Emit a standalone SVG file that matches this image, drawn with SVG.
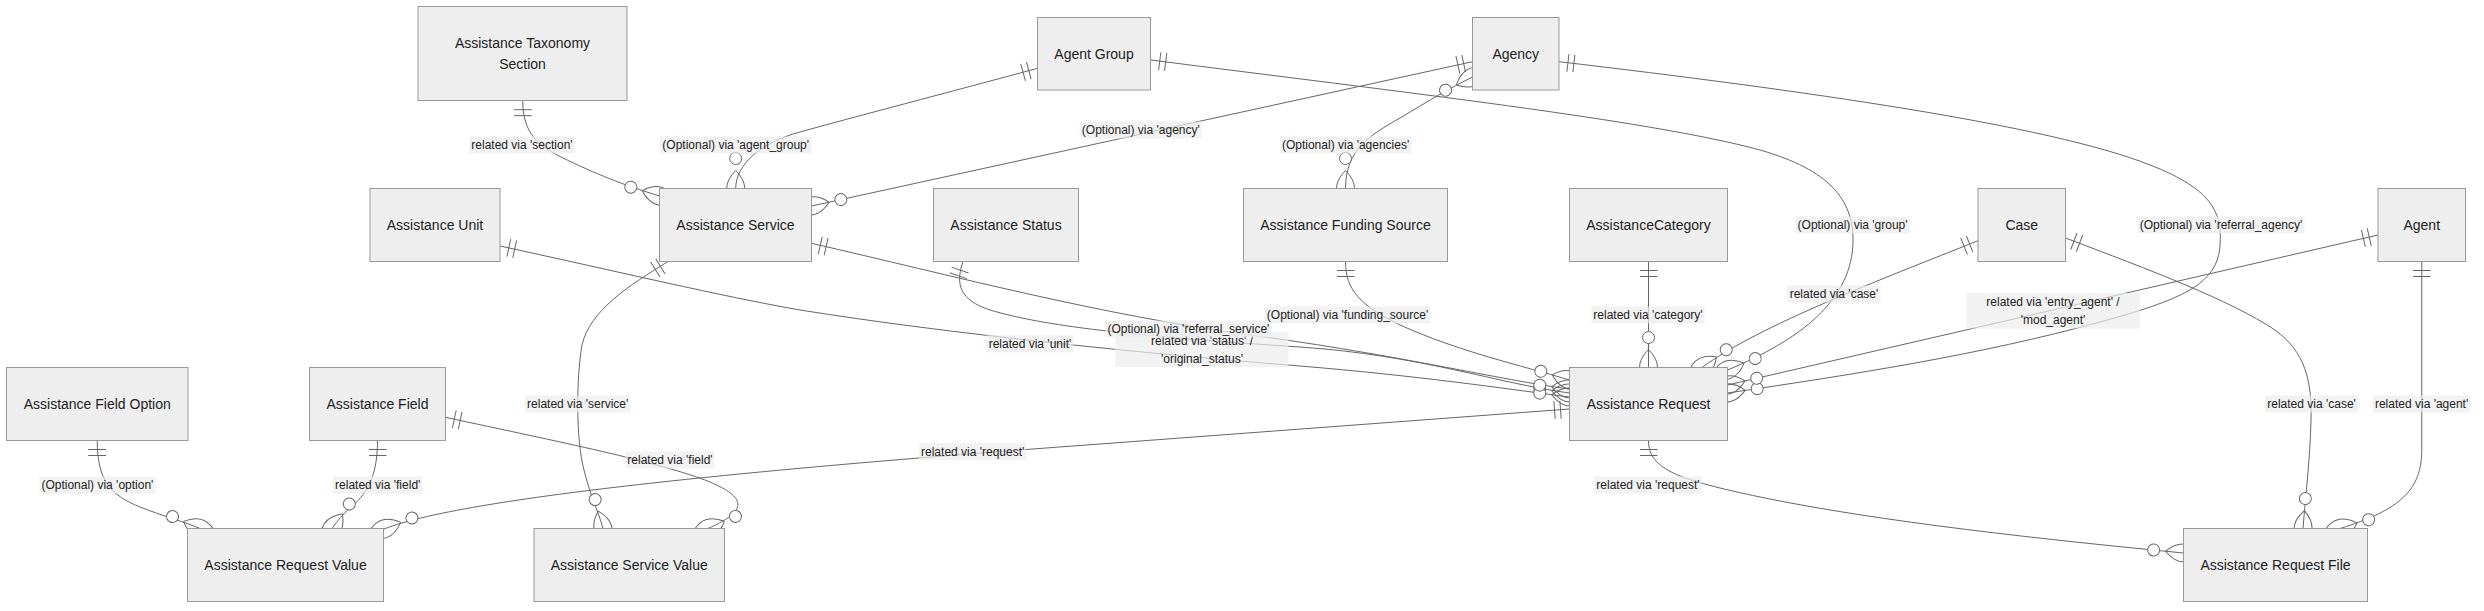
<svg xmlns="http://www.w3.org/2000/svg" width="2484" height="611" viewBox="0 0 2484 611">
<style>
.node rect{fill:#eeeeee;stroke:#999999;stroke-width:1}
.node text{font-family:"Liberation Sans",Arial,sans-serif;font-size:14px;fill:#222222;text-anchor:middle;dominant-baseline:central}
.edge{fill:none;stroke:#666666;stroke-width:1}
.one{marker-start:url(#oneStart)}
.many{marker-end:url(#manyEnd)}
.lbl rect{fill:#ececec;opacity:0.7}
.lbl text{font-family:"Liberation Sans",Arial,sans-serif;font-size:12px;fill:#222222;text-anchor:middle;dominant-baseline:central}
</style>
<defs>
<marker id="oneStart" refX="0" refY="9" markerWidth="18" markerHeight="18" orient="auto" markerUnits="userSpaceOnUse"><path d="M9,0 L9,18 M15,0 L15,18" stroke="#666666" fill="none"/></marker>
<marker id="manyEnd" refX="39" refY="18" markerWidth="57" markerHeight="36" orient="auto" markerUnits="userSpaceOnUse"><circle cx="9" cy="18" r="6" stroke="#666666" fill="#ffffff"/><path d="M21,18 Q39,0 57,18 Q39,36 21,18" stroke="#666666" fill="none"/></marker>
<marker id="manyStart" refX="18" refY="18" markerWidth="57" markerHeight="36" orient="auto" markerUnits="userSpaceOnUse"><circle cx="48" cy="18" r="6" stroke="#666666" fill="#ffffff"/><path d="M0,18 Q18,0 36,18 Q18,36 0,18" stroke="#666666" fill="none"/></marker>
</defs>
<rect x="0" y="0" width="2484" height="611" fill="#ffffff"/>
<g id="connectors">
<path class="edge one many" d="M522.7,100.7 C522.7,140 545,150 580,166 S640,190 659.5,196"/>
<path class="edge one many" d="M1037.5,68.3 C950,92 850,118 800,132 C760,142.7 735.7,165 735.7,188.5"/>
<path class="edge one many" d="M1472.5,61.7 L811.5,206"/>
<path class="edge many" style="marker-start:url(#manyStart)" d="M1345.5,188.5 C1345.5,150 1370,135 1400,118 C1430,100 1450,88 1472.5,77"/>
<path class="edge one many" d="M1150.8,60 C1400,92 1650,120 1760,150 C1830,170 1853,200 1853,240 C1853,300 1800,340 1727.5,370"/>
<path class="edge one many" d="M1559,61.7 C1800,90 2050,125 2150,165 C2215,190 2222,215 2220,245 C2218,285 2180,300 2100,322 C1980,355 1850,375 1727.5,393"/>
<path class="edge one many" d="M1978,240.7 C1880,280 1760,325 1702,367.5"/>
<path class="edge one many" d="M2378,235 L1727.5,385"/>
<path class="edge one many" d="M1648.5,261.5 L1648.5,367.5"/>
<path class="edge one many" d="M2065.5,238 C2150,270 2230,300 2275,330 C2305,352 2312,380 2311,420 C2310,460 2306,490 2303,528.5"/>
<path class="edge one many" d="M2421.75,261.5 L2421.75,450 C2421.75,490 2400,510 2340,528.5"/>
<path class="edge one many" d="M1648.5,440.5 C1648.5,470 1680,480 1760,497 C1880,522 2050,540 2183.5,553"/>
<path class="edge one many" d="M1569.5,409 L1100,444 C800,466 470,495 384,529"/>
<path class="edge one many" d="M97.25,440.5 C97.25,480 110,495 140,507 C160,515 185,522 200,528.5"/>
<path class="edge one many" d="M377.5,440.5 C377.5,480 365,495 350,508 C343,514 338,520 332,528.5"/>
<path class="edge one many" d="M445.5,417.3 C560,442 660,462 710,482 C745,497 750,510 708,528.5"/>
<path class="edge one many" d="M668,261.5 C630,285 590,310 582,345 C576,380 576,440 584,470 C590,495 598,510 603,528.5"/>
<path class="edge one many" d="M963,261.5 C955,285 960,300 990,310 C1050,328 1150,337 1300,347 C1420,355 1500,384 1569.5,393"/>
<path class="edge one many" d="M500,246 C620,272 720,296 800,310 C950,334 1150,354 1300,366 C1420,376 1500,388 1569.5,397"/>
<path class="edge one many" d="M811.5,243.3 C950,275 1100,315 1250,335 C1400,355 1500,380 1569.5,389"/>
<path class="edge one many" d="M1345.5,261.5 C1345.5,290 1360,305 1400,325 C1460,352 1520,365 1569.5,380"/>
<g class="lbl">
<rect x="469.5" y="136.5" width="105" height="17"/><text x="522" y="145">related via 'section'</text>
<rect x="660.2" y="136.5" width="151" height="17"/><text x="735.7" y="145">(Optional) via 'agent_group'</text>
<rect x="1079.8" y="121.5" width="122" height="17"/><text x="1140.8" y="130">(Optional) via 'agency'</text>
<rect x="1280.1" y="136.5" width="131" height="17"/><text x="1345.6" y="145">(Optional) via 'agencies'</text>
<rect x="1795.6" y="216.5" width="114" height="17"/><text x="1852.6" y="225">(Optional) via 'group'</text>
<rect x="2137.5" y="216.5" width="167" height="17"/><text x="2221" y="225">(Optional) via 'referral_agency'</text>
<rect x="1787.5" y="285.5" width="93" height="17"/><text x="1834" y="294">related via 'case'</text>
<rect x="1966.7" y="293" width="173" height="35.5"/><text x="2053" y="301.7">related via 'entry_agent' /</text><text x="2053" y="320">'mod_agent'</text>
<rect x="1591.5" y="306.5" width="113" height="17"/><text x="1648" y="315">related via 'category'</text>
<rect x="2265.1" y="395.5" width="93" height="17"/><text x="2311.6" y="404">related via 'case'</text>
<rect x="2373.1" y="395.5" width="97" height="17"/><text x="2421.6" y="404">related via 'agent'</text>
<rect x="1594.5" y="476.5" width="107" height="17"/><text x="1648" y="485">related via 'request'</text>
<rect x="919.2" y="443.2" width="107" height="17"/><text x="972.7" y="451.7">related via 'request'</text>
<rect x="39.4" y="476.5" width="116" height="17"/><text x="97.4" y="485">(Optional) via 'option'</text>
<rect x="333.2" y="476.5" width="89" height="17"/><text x="377.7" y="485">related via 'field'</text>
<rect x="625.5" y="451.5" width="89" height="17"/><text x="670" y="460">related via 'field'</text>
<rect x="525.2" y="395.5" width="105" height="17"/><text x="577.7" y="404">related via 'service'</text>
<rect x="1115.5" y="331.7" width="173" height="35.6"/><text x="1202" y="340.7">related via 'status' /</text><text x="1202" y="359">'original_status'</text>
<rect x="986.5" y="335.2" width="87" height="17"/><text x="1030" y="343.7">related via 'unit'</text>
<rect x="1105.4" y="320.5" width="166" height="17"/><text x="1188.4" y="329">(Optional) via 'referral_service'</text>
<rect x="1264.5" y="306.5" width="166" height="17"/><text x="1347.5" y="315">(Optional) via 'funding_source'</text>
</g>
</g>
<g id="assistance_taxonomy_section" class="node"><rect x="418" y="6.5" width="209" height="94"/><text x="522.5" y="43.3">Assistance Taxonomy</text><text x="522.5" y="64">Section</text></g>
<g id="agent_group" class="node"><rect x="1037.5" y="17.5" width="113" height="72.5"/><text x="1094" y="53.75">Agent Group</text></g>
<g id="agency" class="node"><rect x="1472.5" y="17.5" width="86.5" height="72.5"/><text x="1515.75" y="53.75">Agency</text></g>
<g id="assistance_unit" class="node"><rect x="370" y="188.5" width="130" height="73"/><text x="435" y="225">Assistance Unit</text></g>
<g id="assistance_service" class="node"><rect x="659.5" y="188.5" width="152" height="73"/><text x="735.5" y="225">Assistance Service</text></g>
<g id="assistance_status" class="node"><rect x="933.5" y="188.5" width="145" height="73"/><text x="1006" y="225">Assistance Status</text></g>
<g id="assistance_funding_source" class="node"><rect x="1243.5" y="188.5" width="204" height="73"/><text x="1345.5" y="225">Assistance Funding Source</text></g>
<g id="assistance_category" class="node"><rect x="1569.5" y="188.5" width="158" height="73"/><text x="1648.5" y="225">AssistanceCategory</text></g>
<g id="case" class="node"><rect x="1978" y="188.5" width="87.5" height="73"/><text x="2021.75" y="225">Case</text></g>
<g id="agent" class="node"><rect x="2378" y="188.5" width="87.5" height="73"/><text x="2421.75" y="225">Agent</text></g>
<g id="assistance_field_option" class="node"><rect x="6.5" y="367.5" width="181.5" height="73"/><text x="97.25" y="404">Assistance Field Option</text></g>
<g id="assistance_field" class="node"><rect x="309.5" y="367.5" width="136" height="73"/><text x="377.5" y="404">Assistance Field</text></g>
<g id="assistance_request" class="node"><rect x="1569.5" y="367.5" width="158" height="73"/><text x="1648.5" y="404">Assistance Request</text></g>
<g id="assistance_request_value" class="node"><rect x="187.5" y="528.5" width="196" height="73"/><text x="285.5" y="565">Assistance Request Value</text></g>
<g id="assistance_service_value" class="node"><rect x="534" y="528.5" width="190.5" height="73"/><text x="629.25" y="565">Assistance Service Value</text></g>
<g id="assistance_request_file" class="node"><rect x="2183.5" y="528.5" width="184" height="73"/><text x="2275.5" y="565">Assistance Request File</text></g>
</svg>
